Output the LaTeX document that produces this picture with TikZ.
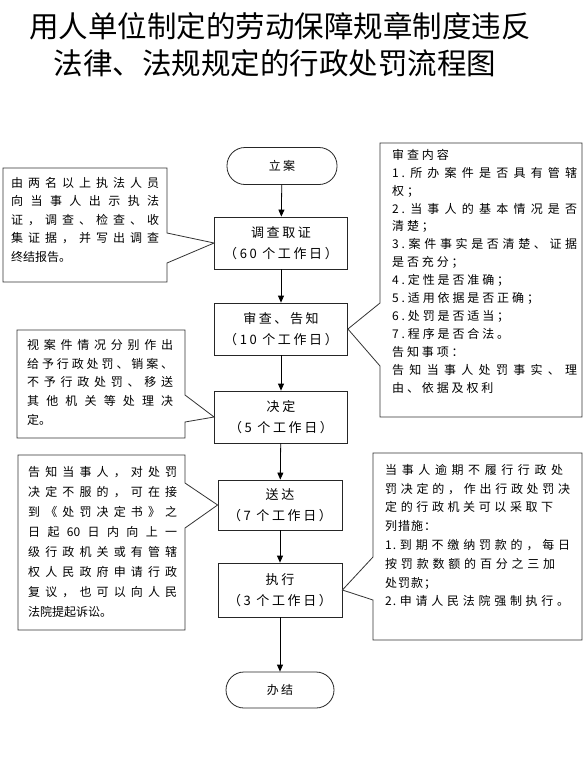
\documentclass[tikz,border=0pt]{standalone}
\usepackage{fontspec}
\usetikzlibrary{arrows.meta}
\newfontfamily\cjk{Noto Sans CJK SC}
\newfontfamily\cjkw[LetterSpace=20]{Noto Sans CJK SC}
\newfontfamily\cjkc{Noto Sans CJK SC}
\newfontfamily\cjkd[LetterSpace=24]{Noto Sans CJK SC}
\newfontfamily\cjke[LetterSpace=8]{Noto Sans CJK SC}
\makeatletter
\def\jus#1#2{\makebox[#1][s]{\jus@a#2\jus@end}}
\def\jus@a#1#2\jus@end{#1\ifx\jus@end#2\jus@end\else\hfill\jus@a#2\jus@end\fi}
\makeatother
\begin{document}
\begin{tikzpicture}[x=1pt,y=-1pt,
  stepbox/.style={draw=black!85,line width=0.8pt,minimum width=133pt,minimum height=52pt,align=center,inner sep=0pt,font=\cjkw\fontsize{13}{21}\selectfont},
  termbox/.style={draw=black!85,line width=0.8pt,rounded corners=18pt,minimum width=110pt,minimum height=37pt,inner sep=0pt,font=\cjkw\fontsize{12}{14}\selectfont},
  flow/.style={draw=black,line width=0.8pt,-{Triangle[length=7pt,width=6pt]}},
  calltext/.style={anchor=north west,inner sep=0pt,align=left},
  callline/.style={draw=black!80,line width=0.8pt,fill=white,line join=miter}
]
\useasboundingbox (0,0) rectangle (583,782);
\fill[white] (0,0) rectangle (583,782);

% title
\node[font=\cjk\fontsize{29.5}{30}\selectfont,inner sep=0pt] (t1) at (280,26) {用人单位制定的劳动保障规章制度违反};
\node[font=\cjk\fontsize{29.5}{30}\selectfont,inner sep=0pt] (t2) at (275,63) {法律、法规规定的行政处罚流程图};

% main flow
\node[termbox] (la) at (282,166) {立案};
\node[stepbox] (dc) at (281,243) {调查取证\\（60 个工作日）};
\node[stepbox] (sc) at (281,329) {审查、告知\\（10 个工作日）};
\node[stepbox] (jd) at (281,417) {决定\\（5 个工作日）};
\node[stepbox,minimum width=124pt,minimum height=50pt] (sd) at (280,505) {送达\\（7 个工作日）};
\node[stepbox,minimum width=124pt,minimum height=54pt] (zx) at (280,590) {执行\\（3 个工作日）};
\node[termbox,minimum width=108pt,minimum height=36pt] (bj) at (280,690) {办结};

\draw[flow] (la) -- (dc);
\draw[flow] (dc) -- (sc);
\draw[flow] (sc) -- (jd);
\draw[flow] (jd) -- (sd);
\draw[flow] (sd) -- (zx);
\draw[flow] (zx) -- (bj);

% callout 1
\draw[callline] (3,168) -- (167,168) -- (167,233) -- (dc.west) -- (167,263) -- (167,282) -- (3,282) -- cycle;
\node[calltext,font=\cjkc\fontsize{12}{18.5}\selectfont] (c1) at (11,177) {%
\jus{148pt}{由两名以上执法人员}\\
\jus{148pt}{向当事人出示执法}\\
\jus{148pt}{证，调查、检查、收}\\
\jus{148pt}{集证据，并写出调查}\\
终结报告。};

% callout 2
\draw[callline] (380,143) -- (582,143) -- (582,417) -- (380,417) -- (380,366) -- (sc.east) -- (380,303) -- cycle;
\node[calltext,font=\cjkd\fontsize{12}{17.9}\selectfont] (c2) at (392,149) {%
审查内容\\
\jus{185pt}{{1.}所办案件是否具有管辖}\\
权；\\
\jus{185pt}{{2.}当事人的基本情况是否}\\
清楚；\\
\jus{185pt}{{3.}案件事实是否清楚、证据}\\
是否充分；\\
4.定性是否准确；\\
5.适用依据是否正确；\\
6.处罚是否适当；\\
7.程序是否合法。\\
告知事项：\\
\jus{185pt}{告知当事人处罚事实、理}\\
由、依据及权利};

% callout 3
\draw[callline] (17,330) -- (185,330) -- (185,395) -- (jd.west) -- (185,422) -- (185,438) -- (17,438) -- cycle;
\node[calltext,font=\cjkc\fontsize{12}{18.8}\selectfont] (c3) at (27,339) {%
\jus{146pt}{视案件情况分别作出}\\
\jus{146pt}{给予行政处罚、销案、}\\
\jus{146pt}{不予行政处罚、移送}\\
\jus{146pt}{其他机关等处理决}\\
定。};

% callout 4
\draw[callline] (18,455) -- (185,455) -- (185,483) -- (sd.west) -- (185,528) -- (185,630) -- (18,630) -- cycle;
\node[calltext,font=\cjkc\fontsize{12}{20}\selectfont] (c4) at (28,466) {%
\jus{149pt}{告知当事人，对处罚}\\
\jus{149pt}{决定不服的，可在接}\\
\jus{149pt}{到《处罚决定书》之}\\
\jus{149pt}{日起{60}日内向上一}\\
\jus{149pt}{级行政机关或有管辖}\\
\jus{149pt}{权人民政府申请行政}\\
\jus{149pt}{复议，也可以向人民}\\
法院提起诉讼。};

% callout 5
\draw[callline] (373,453) -- (582,453) -- (582,640) -- (373,640) -- (373,600) -- (zx.east) -- (373,557) -- cycle;
\node[calltext,font=\cjke\fontsize{12}{18.8}\selectfont] (c5) at (385,464) {%
\jus{178pt}{当事人逾期不履行行政处}\\
\jus{185pt}{罚决定的，作出行政处罚决}\\
\jus{168pt}{定的行政机关可以采取下}\\
列措施：\\
\jus{185pt}{{1.}到期不缴纳罚款的，每日}\\
\jus{170pt}{按罚款数额的百分之三加}\\
处罚款；\\
\jus{184pt}{{2.}申请人民法院强制执行。}};
\end{tikzpicture}
\end{document}
